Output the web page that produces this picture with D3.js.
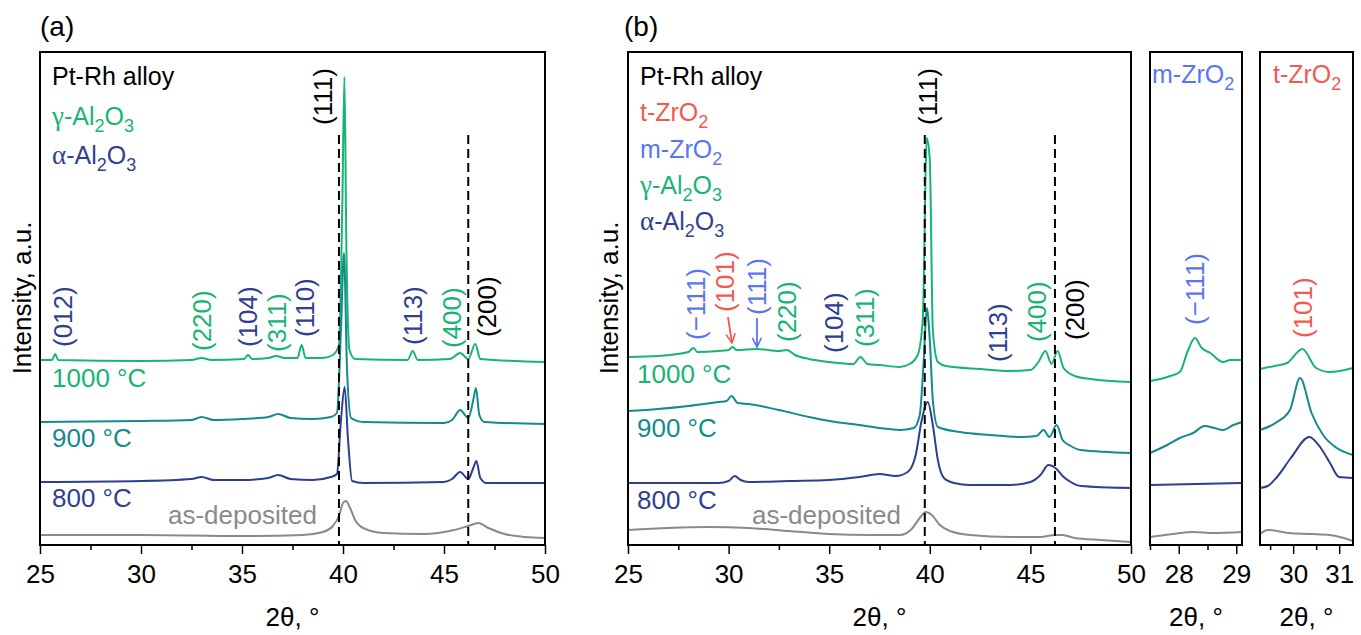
<!DOCTYPE html>
<html>
<head>
<meta charset="utf-8">
<script src="https://cdn.jsdelivr.net/npm/d3@7"></script>
<style>
body { margin: 0; background: #fff; }
svg text { font-family: "Liberation Sans", Arial, sans-serif; }
</style>
</head>
<body>
<svg id="chart" width="1361" height="635"></svg>
<script>
// [2theta, intensity a.u. (curves stacked with offset)]
var a1000 = [[25,185],[25.6,185],[25.75,191],[25.9,185],[30,184],[32.5,185],[33,187],[33.5,185],[35.1,186],[35.3,190],[35.5,186],[36.3,187],[36.7,189],[37.1,187],[37.75,187],[37.95,200],[38.15,187],[39,187],[39.5,190],[39.8,200],[39.97,345],[40.07,468],[40.17,295],[40.32,195],[40.6,186],[43.2,185],[43.45,194],[43.7,185],[45.3,186],[45.8,192],[46.2,186],[46.55,201],[46.8,186],[50,183]];
var a900 = [[25,123],[30,124],[32.5,125],[33,128],[33.6,125],[35,126],[36.3,128],[36.8,131],[37.4,127],[38.5,126],[39.4,128],[39.7,132],[39.9,215],[40.05,292],[40.2,175],[40.4,127],[41,123],[45,122],[45.4,125],[45.8,135],[46.2,127],[46.45,145],[46.58,157],[46.75,130],[47,123],[50,121]];
var a800 = [[25,63],[30,64],[32.5,66],[33,68],[33.6,65],[35,65],[36.3,67],[36.8,70],[37.4,66],[38.5,65],[39.4,68],[39.7,71],[39.9,125],[40.08,158],[40.25,105],[40.45,64],[41,62],[45,63],[45.4,66],[45.8,73],[46.2,66],[46.45,77],[46.6,84],[46.8,67],[47.1,62],[50,62]];
var aAsDep = [[25,10],[30,10],[35,9],[38,10],[39,13],[39.5,19],[39.8,29],[40,42],[40.15,44],[40.35,37],[40.6,25],[41,17],[42,12],[44,11],[45.5,15],[46.2,19],[46.7,22],[47.2,17],[48,11],[49,8],[50,7]];

var b1000 = [[25,188],[26.5,189],[28,193],[28.25,197],[28.45,193],[29.5,194],[30,195],[30.2,198],[30.4,195],[31.4,196],[32.5,194],[32.9,195],[33.3,190],[34,186],[35,183],[36.2,181],[36.55,188],[36.9,181],[37.5,180],[38.5,178],[39,181],[39.4,190],[39.65,225],[39.85,407],[40,385],[40.15,215],[40.4,183],[40.8,179],[42.5,176],[44,174],[45,175],[45.4,183],[45.75,194],[46.05,181],[46.35,194],[46.65,177],[47.2,169],[48,166],[50,163]];
var b900 = [[25,134],[26.5,136],[28,139],[29.5,143],[29.9,144],[30.15,149],[30.45,142],[31,141],[32.5,135],[34,128],[35,124],[36.5,120],[37.5,117],[38.5,115],[39.2,117],[39.5,130],[39.7,185],[39.85,237],[40,205],[40.15,145],[40.4,118],[41.5,113],[43,110],[44.5,108],[45.3,109],[45.65,115],[45.95,108],[46.3,120],[46.6,105],[47,99],[47.5,95],[50,92]];
var b800 = [[25,62],[29.5,62],[30,64],[30.3,69],[30.6,65],[31,63],[33,64],[35,65],[36.5,68],[37.5,71],[38.3,69],[38.9,73],[39.3,90],[39.6,125],[39.9,143],[40.15,120],[40.4,85],[40.7,67],[41.2,62],[42,60],[44,60],[45,63],[45.5,70],[45.9,80],[46.3,76],[46.6,69],[47,63],[47.5,59],[50,57]];
var bAsDep = [[25,15],[27,17],[29,18],[31,17],[33,14],[35,11],[37,10],[38.5,10],[39.1,16],[39.5,27],[39.8,33],[40.1,30],[40.5,20],[41,14],[42,10],[44,8],[45.5,8],[46.2,10],[46.6,10],[47.2,7],[48.5,5],[50,3]];

var m1000 = [[27.5,164],[27.8,168],[28.02,173],[28.15,193],[28.28,207],[28.4,197],[28.55,192],[28.77,183],[28.9,185],[29.1,185]];
var m900 = [[27.5,92],[27.8,100],[28.02,107],[28.25,112],[28.45,119],[28.62,117],[28.77,115],[28.95,120],[29.1,123]];
var m800 = [[27.5,60],[28.3,61],[29.1,62]];
var mAsDep = [[27.5,8],[27.9,11],[28.25,13],[28.6,12],[29.1,13]];

var t1000 = [[29.28,176],[29.6,179],[29.87,182],[30.2,196],[30.5,177],[30.8,173],[31.3,177]];
var t900 = [[29.28,115],[29.5,119],[29.65,123],[29.93,135],[30.15,167],[30.4,132],[30.65,110],[30.95,97],[31.3,90]];
var t800 = [[29.28,57],[29.45,59],[29.65,68],[29.95,87],[30.35,108],[30.6,97],[30.8,82],[31,68],[31.3,67]];
var tAsDep = [[29.28,11],[29.45,15],[29.9,12],[30.4,11],[30.8,10],[31.1,7],[31.3,4]];

var samples = ["1000 °C", "900 °C", "800 °C", "as-deposited"];
var aPhases = [["Pt-Rh alloy", "pt"], ["γ-Al_2O_3", "gamma"], ["α-Al_2O_3", "alpha"]];
var bPhases = [["Pt-Rh alloy", "pt"], ["t-ZrO_2", "t"], ["m-ZrO_2", "m"], ["γ-Al_2O_3", "gamma"], ["α-Al_2O_3", "alpha"]];

// [label, 2theta, intensity at label foot, phase]
var aPeaks = [["(012)",26.14,198,"alpha"],["(220)",33.02,194,"gamma"],["(104)",35.3,198,"alpha"],["(311)",36.73,193,"gamma"],["(110)",38.12,208,"alpha"],["(111)",39.0,420,"pt"],["(113)",43.47,200,"alpha"],["(400)",45.4,197,"gamma"],["(200)",47.13,208,"pt"]];
var bPeaks = [["(−111)",28.38,205,"m"],["(101)",29.82,233,"t"],["(111)",31.41,230,"m"],["(220)",32.9,203,"gamma"],["(104)",35.24,192,"alpha"],["(311)",36.78,198,"gamma"],["(111)",39.91,420,"pt"],["(113)",43.39,183,"alpha"],["(400)",45.33,203,"gamma"],["(200)",47.22,205,"pt"]];
var mPeaks = [["(−111)",28.28,220,"m"]];
var tPeaks = [["(101)",30.2,207,"t"]];
var bArrows = [["t",29.97,228,30.17,202],["m",31.41,227,31.41,198]];

var aRefLines = [39.8, 46.2];
var bRefLines = [39.75, 46.22];

var mainTicks = [25, 30, 35, 40, 45, 50];
var mainMinor = [27.5, 32.5, 37.5, 42.5, 47.5];
var mTicks = [28, 29], mMinor = [27.5, 28.5];
var tTicks = [30, 31], tMinor = [29.5, 30.5];

var colors = {
    "1000": "#17b574", "900": "#138b8d", "800": "#2f3f90", "asdep": "#8a8a8a",
    pt: "#000000", t: "#f5584f", m: "#5a75f3", gamma: "#17b574", alpha: "#2f3f90"
};
var sampleColors = [colors["1000"], colors["900"], colors["800"], colors.asdep];

var svg = d3.select("#chart");
var top0 = 52, bottom0 = 545;
var y = d3.scaleLinear().domain([0, 493]).range([bottom0, top0]);

function drawPanel(p) {
    var x = d3.scaleLinear().domain(p.domain).range([p.x0, p.x1]);
    var g = svg.append("g");

    var line = d3.line()
        .x(function(d) { return x(d[0]); })
        .y(function(d) { return y(d[1]); })
        .curve(d3.curveMonotoneX);

    // curves, 1000 first so lower temps sit on top
    p.curves.forEach(function(c, i) {
        g.append("path")
            .attr("d", line(c))
            .attr("fill", "none")
            .attr("stroke", sampleColors[i])
            .attr("stroke-width", 2)
            .attr("stroke-linejoin", "round");
    });

    // dashed Pt-Rh reference lines
    (p.refLines || []).forEach(function(v) {
        g.append("line")
            .attr("x1", x(v)).attr("x2", x(v))
            .attr("y1", y(410)).attr("y2", bottom0)
            .attr("stroke", "#000")
            .attr("stroke-width", 2)
            .attr("stroke-dasharray", "9,5");
    });

    // minor ticks
    g.append("g")
        .attr("transform", "translate(0," + bottom0 + ")")
        .call(d3.axisBottom(x).tickValues(p.minor).tickSize(5).tickSizeOuter(0).tickFormat(""))
        .call(function(a) { a.select(".domain").remove(); })
        .selectAll("line").attr("stroke-width", 1.5);

    // major ticks
    var ax = g.append("g")
        .attr("transform", "translate(0," + bottom0 + ")")
        .call(d3.axisBottom(x).tickValues(p.ticks).tickSize(9).tickSizeOuter(0).tickPadding(11).tickFormat(d3.format("d")));
    ax.select(".domain").remove();
    ax.selectAll("line").attr("stroke-width", 1.5);
    ax.selectAll("text")
        .style("font-size", "26px")
        .style("font-family", "'Liberation Sans', Arial, sans-serif")
        .attr("fill", "#000");

    // frame
    g.append("rect")
        .attr("x", p.x0).attr("y", top0)
        .attr("width", p.x1 - p.x0).attr("height", bottom0 - top0)
        .attr("fill", "none")
        .attr("stroke", "#000")
        .attr("stroke-width", 2);

    g.append("text")
        .attr("x", (p.x0 + p.x1) / 2).attr("y", 626)
        .attr("text-anchor", "middle")
        .style("font-size", "26px")
        .text("2θ, °");

    // peak labels
    p.peaks.forEach(function(d) {
        g.append("text")
            .attr("transform", "translate(" + x(d[1]) + "," + y(d[2]) + ") rotate(-90)")
            .attr("dy", "0.36em")
            .attr("fill", colors[d[3]])
            .style("font-size", "26px")
            .text(d[0]);
    });

    return { x: x, g: g };
}

function richText(t, str) {
    var shift = 0;
    str.split(/(_\d)/).forEach(function(s) {
        if (!s) return;
        var sub = s[0] == "_";
        var txt = sub ? s.slice(1) : s;
        var off = sub ? 7 : 0;
        var dy = off - shift;
        shift = off;
        if (!sub && /^[γα]/.test(txt)) {
            t.append("tspan").attr("dy", dy)
                .style("font-family", "'Liberation Serif', serif")
                .style("font-size", "27px")
                .text(txt[0]);
            t.append("tspan").text(txt.slice(1));
            return;
        }
        var ts = t.append("tspan").attr("dy", dy).text(txt);
        if (sub) ts.style("font-size", "18px");
    });
}

function legend(x0, y0, step, list) {
    list.forEach(function(d, i) {
        var t = svg.append("text")
            .attr("x", x0).attr("y", y0 + i * step)
            .attr("fill", colors[d[1]])
            .style("font-size", "25px");
        richText(t, d[0]);
    });
}

function sampleLabels(x0, ys, asdepX) {
    samples.forEach(function(s, i) {
        svg.append("text")
            .attr("x", i == 3 ? asdepX : x0).attr("y", ys[i])
            .attr("fill", sampleColors[i])
            .style("font-size", "26px")
            .text(s);
    });
}

// panel (a)
drawPanel({ x0: 40, x1: 545, domain: [25, 50], ticks: mainTicks, minor: mainMinor,
    curves: [a1000, a900, a800, aAsDep], refLines: aRefLines, peaks: aPeaks });
legend(52, 85, 39.5, aPhases);
sampleLabels(52, [387, 447, 507, 524], 168);

// panel (b)
var pb = drawPanel({ x0: 628, x1: 1131, domain: [25, 50], ticks: mainTicks, minor: mainMinor,
    curves: [b1000, b900, b800, bAsDep], refLines: bRefLines, peaks: bPeaks });
legend(640, 85, 36.3, bPhases);
sampleLabels(637, [383, 437, 509, 524], 752);

// arrows to the weak ZrO2 reflections
var defs = svg.append("defs");
["t", "m"].forEach(function(k) {
    defs.append("marker")
        .attr("id", "arrow_" + k)
        .attr("viewBox", "0 -6 12 12")
        .attr("refX", 11).attr("refY", 0)
        .attr("markerWidth", 11).attr("markerHeight", 11)
        .attr("markerUnits", "userSpaceOnUse")
        .attr("orient", "auto")
        .append("path")
        .attr("d", "M1,-5 L11,0 L1,5")
        .attr("fill", "none")
        .attr("stroke", colors[k])
        .attr("stroke-width", 1.8);
});
bArrows.forEach(function(d) {
    svg.append("line")
        .attr("x1", pb.x(d[1])).attr("y1", y(d[2]))
        .attr("x2", pb.x(d[3])).attr("y2", y(d[4]))
        .attr("stroke", colors[d[0]])
        .attr("stroke-width", 1.8)
        .attr("marker-end", "url(#arrow_" + d[0] + ")");
});

// insets
drawPanel({ x0: 1150, x1: 1242, domain: [27.5, 29.1], ticks: mTicks, minor: mMinor,
    curves: [m1000, m900, m800, mAsDep], peaks: mPeaks });
drawPanel({ x0: 1260, x1: 1353, domain: [29.28, 31.3], ticks: tTicks, minor: tMinor,
    curves: [t1000, t900, t800, tAsDep], peaks: tPeaks });
legend(1152, 83, 0, [["m-ZrO_2", "m"]]);
legend(1273, 83, 0, [["t-ZrO_2", "t"]]);

// y titles and panel letters
[22, 609].forEach(function(cx) {
    svg.append("text")
        .attr("transform", "translate(" + cx + ",298) rotate(-90)")
        .attr("text-anchor", "middle")
        .attr("dy", "0.36em")
        .style("font-size", "26px")
        .text("Intensity, a.u.");
});
svg.append("text").attr("x", 40).attr("y", 36).style("font-size", "28px").text("(a)");
svg.append("text").attr("x", 624).attr("y", 36).style("font-size", "28px").text("(b)");
</script>
</body>
</html>
